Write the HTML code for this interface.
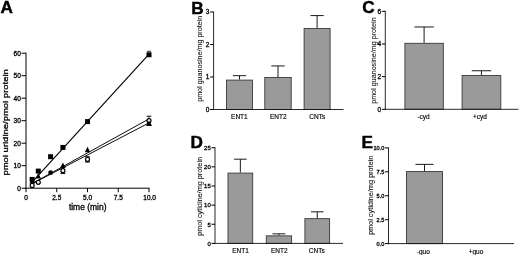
<!DOCTYPE html><html><head><meta charset="utf-8"><style>html,body{margin:0;padding:0;background:#fff;}svg{display:block;will-change:transform;filter:blur(0.35px);}text{font-family:"Liberation Sans",sans-serif;fill:#000;}</style></head><body>
<svg width="520" height="255" viewBox="0 0 520 255">
<rect x="0" y="0" width="520" height="255" fill="#ffffff"/>
<text x="0.6" y="13.1" font-size="17.2" text-anchor="start" font-weight="bold" stroke="#000" stroke-width="0.45">A</text>
<line x1="26" y1="52.7" x2="26" y2="188.7" stroke="#000" stroke-width="1"/>
<line x1="25.5" y1="188.2" x2="149.5" y2="188.2" stroke="#000" stroke-width="1"/>
<line x1="21.5" y1="188.2" x2="26" y2="188.2" stroke="#000" stroke-width="1"/>
<text x="20.8" y="190.5" font-size="6.5" text-anchor="end" stroke="#000" stroke-width="0.3">0</text>
<line x1="21.5" y1="165.7" x2="26" y2="165.7" stroke="#000" stroke-width="1"/>
<text x="20.8" y="168" font-size="6.5" text-anchor="end" stroke="#000" stroke-width="0.3">10</text>
<line x1="21.5" y1="143.2" x2="26" y2="143.2" stroke="#000" stroke-width="1"/>
<text x="20.8" y="145.5" font-size="6.5" text-anchor="end" stroke="#000" stroke-width="0.3">20</text>
<line x1="21.5" y1="120.7" x2="26" y2="120.7" stroke="#000" stroke-width="1"/>
<text x="20.8" y="123" font-size="6.5" text-anchor="end" stroke="#000" stroke-width="0.3">30</text>
<line x1="21.5" y1="98.2" x2="26" y2="98.2" stroke="#000" stroke-width="1"/>
<text x="20.8" y="100.5" font-size="6.5" text-anchor="end" stroke="#000" stroke-width="0.3">40</text>
<line x1="21.5" y1="75.7" x2="26" y2="75.7" stroke="#000" stroke-width="1"/>
<text x="20.8" y="78" font-size="6.5" text-anchor="end" stroke="#000" stroke-width="0.3">50</text>
<line x1="21.5" y1="53.2" x2="26" y2="53.2" stroke="#000" stroke-width="1"/>
<text x="20.8" y="55.5" font-size="6.5" text-anchor="end" stroke="#000" stroke-width="0.3">60</text>
<line x1="26" y1="188.2" x2="26" y2="192.2" stroke="#000" stroke-width="1"/>
<text x="26" y="199.9" font-size="6.5" text-anchor="middle" stroke="#000" stroke-width="0.3">0</text>
<line x1="56.75" y1="188.2" x2="56.75" y2="192.2" stroke="#000" stroke-width="1"/>
<text x="56.75" y="199.9" font-size="6.5" text-anchor="middle" stroke="#000" stroke-width="0.3">2.5</text>
<line x1="87.5" y1="188.2" x2="87.5" y2="192.2" stroke="#000" stroke-width="1"/>
<text x="87.5" y="199.9" font-size="6.5" text-anchor="middle" stroke="#000" stroke-width="0.3">5.0</text>
<line x1="118.25" y1="188.2" x2="118.25" y2="192.2" stroke="#000" stroke-width="1"/>
<text x="118.25" y="199.9" font-size="6.5" text-anchor="middle" stroke="#000" stroke-width="0.3">7.5</text>
<line x1="149" y1="188.2" x2="149" y2="192.2" stroke="#000" stroke-width="1"/>
<text x="149.6" y="199.9" font-size="6.5" text-anchor="middle" stroke="#000" stroke-width="0.3">10.0</text>
<text x="87.7" y="210.3" font-size="8.2" text-anchor="middle" stroke="#000" stroke-width="0.3" textLength="37.6" lengthAdjust="spacingAndGlyphs">time (min)</text>
<text x="8.2" y="122.4" font-size="8" text-anchor="middle" stroke="#000" stroke-width="0.3" textLength="106.4" lengthAdjust="spacingAndGlyphs" transform="rotate(-90 8.2 122.4)">pmol uridine/pmol protein</text>
<line x1="31" y1="183.3" x2="148.8" y2="54.3" stroke="#000" stroke-width="1.15"/>
<line x1="31" y1="184.4" x2="148.8" y2="123" stroke="#000" stroke-width="0.95"/>
<line x1="31" y1="184.2" x2="148.8" y2="119" stroke="#000" stroke-width="0.95"/>
<rect x="29.65" y="176.92" width="5" height="5" fill="#000"/>
<rect x="35.8" y="168.6" width="5" height="5" fill="#000"/>
<rect x="48.1" y="154.2" width="5" height="5" fill="#000"/>
<rect x="60.4" y="144.97" width="5" height="5" fill="#000"/>
<rect x="85" y="119.1" width="5" height="5" fill="#000"/>
<rect x="146.5" y="52.27" width="5" height="5" fill="#000"/>
<line x1="147" y1="51.32" x2="151" y2="51.32" stroke="#000" stroke-width="0.8"/>
<polygon points="32.15,178.47 29.45,183.87 34.85,183.87" fill="#000"/>
<polygon points="38.3,173.07 35.6,178.47 41,178.47" fill="#000"/>
<polygon points="62.9,162.5 60.2,167.9 65.6,167.9" fill="#000"/>
<polygon points="87.5,146.75 84.8,152.15 90.2,152.15" fill="#000"/>
<polygon points="149,120.42 146.3,125.82 151.7,125.82" fill="#000"/>
<circle cx="50.6" cy="172.67" r="2.4" fill="#000"/>
<circle cx="32.15" cy="185.5" r="2.0" fill="#fff" stroke="#000" stroke-width="1.2"/>
<circle cx="38.3" cy="182.35" r="2.0" fill="#fff" stroke="#000" stroke-width="1.2"/>
<line x1="62.9" y1="167.72" x2="62.9" y2="173.57" stroke="#000" stroke-width="0.8"/>
<line x1="60.5" y1="167.72" x2="65.3" y2="167.72" stroke="#000" stroke-width="0.9"/>
<line x1="60.5" y1="173.57" x2="65.3" y2="173.57" stroke="#000" stroke-width="0.9"/>
<circle cx="62.9" cy="170.65" r="2.0" fill="#fff" stroke="#000" stroke-width="1.2"/>
<line x1="87.5" y1="156.7" x2="87.5" y2="162.1" stroke="#000" stroke-width="0.8"/>
<line x1="85.1" y1="156.7" x2="89.9" y2="156.7" stroke="#000" stroke-width="0.9"/>
<line x1="85.1" y1="162.1" x2="89.9" y2="162.1" stroke="#000" stroke-width="0.9"/>
<circle cx="87.5" cy="159.4" r="2.0" fill="#fff" stroke="#000" stroke-width="1.2"/>
<line x1="149" y1="116.2" x2="149" y2="125.2" stroke="#000" stroke-width="0.8"/>
<line x1="146.6" y1="116.2" x2="151.4" y2="116.2" stroke="#000" stroke-width="0.9"/>
<line x1="146.6" y1="125.2" x2="151.4" y2="125.2" stroke="#000" stroke-width="0.9"/>
<circle cx="149" cy="120.7" r="2.0" fill="#fff" stroke="#000" stroke-width="1.2"/>
<polygon points="149,120.42 146.3,125.82 151.7,125.82" fill="#000"/>
<text x="191.2" y="13.5" font-size="17.2" text-anchor="start" font-weight="bold" stroke="#000" stroke-width="0.45">B</text>
<line x1="239.5" y1="75.7" x2="239.5" y2="79.6" stroke="#1a1a1a" stroke-width="1"/>
<line x1="232.88" y1="75.7" x2="246.12" y2="75.7" stroke="#1a1a1a" stroke-width="1"/>
<rect x="226.5" y="80.1" width="26" height="29.4" fill="#9a9a9a" stroke="#3a3a3a" stroke-width="0.9"/>
<text x="239.4" y="119.4" font-size="6.5" text-anchor="middle" stroke="#000" stroke-width="0.15">ENT1</text>
<line x1="278" y1="65.95" x2="278" y2="77" stroke="#1a1a1a" stroke-width="1"/>
<line x1="271.29" y1="65.95" x2="284.71" y2="65.95" stroke="#1a1a1a" stroke-width="1"/>
<rect x="264.8" y="77.5" width="26.4" height="32" fill="#9a9a9a" stroke="#3a3a3a" stroke-width="0.9"/>
<text x="278.3" y="119.4" font-size="6.5" text-anchor="middle" stroke="#000" stroke-width="0.15">ENT2</text>
<line x1="317.1" y1="15.58" x2="317.1" y2="27.93" stroke="#1a1a1a" stroke-width="1"/>
<line x1="310.49" y1="15.58" x2="323.72" y2="15.58" stroke="#1a1a1a" stroke-width="1"/>
<rect x="304.1" y="28.43" width="26" height="81.07" fill="#9a9a9a" stroke="#3a3a3a" stroke-width="0.9"/>
<text x="317.3" y="119.4" font-size="6.5" text-anchor="middle" stroke="#000" stroke-width="0.15">CNTs</text>
<line x1="213.6" y1="11.5" x2="213.6" y2="110" stroke="#111" stroke-width="0.9"/>
<line x1="213.1" y1="109.5" x2="343.5" y2="109.5" stroke="#111" stroke-width="0.9"/>
<line x1="210.1" y1="109.5" x2="213.6" y2="109.5" stroke="#000" stroke-width="1"/>
<text x="209.4" y="111.8" font-size="6.5" text-anchor="end" stroke="#000" stroke-width="0.3">0</text>
<line x1="210.1" y1="77" x2="213.6" y2="77" stroke="#000" stroke-width="1"/>
<text x="209.4" y="79.3" font-size="6.5" text-anchor="end" stroke="#000" stroke-width="0.3">1</text>
<line x1="210.1" y1="44.5" x2="213.6" y2="44.5" stroke="#000" stroke-width="1"/>
<text x="209.4" y="46.8" font-size="6.5" text-anchor="end" stroke="#000" stroke-width="0.3">2</text>
<line x1="210.1" y1="12" x2="213.6" y2="12" stroke="#000" stroke-width="1"/>
<text x="209.4" y="14.3" font-size="6.5" text-anchor="end" stroke="#000" stroke-width="0.3">3</text>
<text x="202" y="58.8" font-size="6.3" text-anchor="middle" stroke="#000" stroke-width="0.08" style="fill:#1a1a1a" textLength="86" lengthAdjust="spacingAndGlyphs" transform="rotate(-90 202 58.8)">pmol guanosine/mg protein</text>
<text x="362.3" y="13" font-size="17.2" text-anchor="start" font-weight="bold" stroke="#000" stroke-width="0.45">C</text>
<line x1="424.1" y1="26.98" x2="424.1" y2="42.82" stroke="#1a1a1a" stroke-width="1"/>
<line x1="414.45" y1="26.98" x2="433.75" y2="26.98" stroke="#1a1a1a" stroke-width="1"/>
<rect x="404.9" y="43.32" width="38.4" height="65.98" fill="#9a9a9a" stroke="#3a3a3a" stroke-width="0.9"/>
<text x="423.5" y="119.4" font-size="6.5" text-anchor="middle" stroke="#000" stroke-width="0.15">-cyd</text>
<line x1="481.45" y1="70.75" x2="481.45" y2="75" stroke="#1a1a1a" stroke-width="1"/>
<line x1="471.72" y1="70.75" x2="491.18" y2="70.75" stroke="#1a1a1a" stroke-width="1"/>
<rect x="462.1" y="75.5" width="38.7" height="33.8" fill="#9a9a9a" stroke="#3a3a3a" stroke-width="0.9"/>
<text x="480" y="119.4" font-size="6.5" text-anchor="middle" stroke="#000" stroke-width="0.15">+cyd</text>
<line x1="385.3" y1="10.8" x2="385.3" y2="109.8" stroke="#111" stroke-width="0.9"/>
<line x1="384.8" y1="109.3" x2="518.5" y2="109.3" stroke="#111" stroke-width="0.9"/>
<line x1="381.8" y1="109.3" x2="385.3" y2="109.3" stroke="#000" stroke-width="1"/>
<text x="381.1" y="111.6" font-size="6.5" text-anchor="end" stroke="#000" stroke-width="0.3">0</text>
<line x1="381.8" y1="76.63" x2="385.3" y2="76.63" stroke="#000" stroke-width="1"/>
<text x="381.1" y="78.93" font-size="6.5" text-anchor="end" stroke="#000" stroke-width="0.3">2</text>
<line x1="381.8" y1="43.97" x2="385.3" y2="43.97" stroke="#000" stroke-width="1"/>
<text x="381.1" y="46.27" font-size="6.5" text-anchor="end" stroke="#000" stroke-width="0.3">4</text>
<line x1="381.8" y1="11.3" x2="385.3" y2="11.3" stroke="#000" stroke-width="1"/>
<text x="381.1" y="13.6" font-size="6.5" text-anchor="end" stroke="#000" stroke-width="0.3">6</text>
<text x="375.8" y="60.6" font-size="6.3" text-anchor="middle" stroke="#000" stroke-width="0.08" style="fill:#1a1a1a" textLength="86.5" lengthAdjust="spacingAndGlyphs" transform="rotate(-90 375.8 60.6)">pmol guanosine/mg protein</text>
<text x="190.6" y="148.1" font-size="17.2" text-anchor="start" font-weight="bold" stroke="#000" stroke-width="0.45">D</text>
<line x1="240.35" y1="159.18" x2="240.35" y2="172.58" stroke="#1a1a1a" stroke-width="1"/>
<line x1="234.05" y1="159.18" x2="246.65" y2="159.18" stroke="#1a1a1a" stroke-width="1"/>
<rect x="228" y="173.08" width="24.7" height="70.32" fill="#9a9a9a" stroke="#3a3a3a" stroke-width="0.9"/>
<text x="240.5" y="253.2" font-size="6.5" text-anchor="middle" stroke="#000" stroke-width="0.15">ENT1</text>
<line x1="278.95" y1="233.83" x2="278.95" y2="235.36" stroke="#1a1a1a" stroke-width="1"/>
<line x1="272.51" y1="233.83" x2="285.39" y2="233.83" stroke="#1a1a1a" stroke-width="1"/>
<rect x="266.3" y="235.86" width="25.3" height="7.54" fill="#9a9a9a" stroke="#3a3a3a" stroke-width="0.9"/>
<text x="279.2" y="253.2" font-size="6.5" text-anchor="middle" stroke="#000" stroke-width="0.15">ENT2</text>
<line x1="317.25" y1="211.82" x2="317.25" y2="218.14" stroke="#1a1a1a" stroke-width="1"/>
<line x1="310.95" y1="211.82" x2="323.55" y2="211.82" stroke="#1a1a1a" stroke-width="1"/>
<rect x="304.9" y="218.64" width="24.7" height="24.76" fill="#9a9a9a" stroke="#3a3a3a" stroke-width="0.9"/>
<text x="316.8" y="253.2" font-size="6.5" text-anchor="middle" stroke="#000" stroke-width="0.15">CNTs</text>
<line x1="215" y1="147.2" x2="215" y2="243.9" stroke="#111" stroke-width="0.9"/>
<line x1="214.5" y1="243.4" x2="343" y2="243.4" stroke="#111" stroke-width="0.9"/>
<line x1="211.5" y1="243.4" x2="215" y2="243.4" stroke="#000" stroke-width="1"/>
<text x="210.8" y="245.7" font-size="6" text-anchor="end" stroke="#000" stroke-width="0.3">0</text>
<line x1="211.5" y1="224.26" x2="215" y2="224.26" stroke="#000" stroke-width="1"/>
<text x="210.8" y="226.56" font-size="6" text-anchor="end" stroke="#000" stroke-width="0.3">5</text>
<line x1="211.5" y1="205.12" x2="215" y2="205.12" stroke="#000" stroke-width="1"/>
<text x="210.8" y="207.42" font-size="6" text-anchor="end" stroke="#000" stroke-width="0.3">10</text>
<line x1="211.5" y1="185.98" x2="215" y2="185.98" stroke="#000" stroke-width="1"/>
<text x="210.8" y="188.28" font-size="6" text-anchor="end" stroke="#000" stroke-width="0.3">15</text>
<line x1="211.5" y1="166.84" x2="215" y2="166.84" stroke="#000" stroke-width="1"/>
<text x="210.8" y="169.14" font-size="6" text-anchor="end" stroke="#000" stroke-width="0.3">20</text>
<line x1="211.5" y1="147.7" x2="215" y2="147.7" stroke="#000" stroke-width="1"/>
<text x="210.8" y="150" font-size="6" text-anchor="end" stroke="#000" stroke-width="0.3">25</text>
<text x="202.2" y="196.4" font-size="6.3" text-anchor="middle" stroke="#000" stroke-width="0.08" style="fill:#1a1a1a" textLength="79" lengthAdjust="spacingAndGlyphs" transform="rotate(-90 202.2 196.4)">pmol  cytidine/mg protein</text>
<text x="361.5" y="148.1" font-size="17.2" text-anchor="start" font-weight="bold" stroke="#000" stroke-width="0.45">E</text>
<line x1="424.5" y1="164.36" x2="424.5" y2="171.06" stroke="#1a1a1a" stroke-width="1"/>
<line x1="415.44" y1="164.36" x2="433.56" y2="164.36" stroke="#1a1a1a" stroke-width="1"/>
<rect x="406.5" y="171.56" width="36" height="72.04" fill="#9a9a9a" stroke="#3a3a3a" stroke-width="0.9"/>
<text x="423.3" y="253.6" font-size="6.5" text-anchor="middle" stroke="#000" stroke-width="0.15">-guo</text>
<text x="476" y="253.6" font-size="6.5" text-anchor="middle" stroke="#000" stroke-width="0.15">+guo</text>
<line x1="388.5" y1="147.4" x2="388.5" y2="244.1" stroke="#111" stroke-width="0.9"/>
<line x1="388" y1="243.6" x2="514" y2="243.6" stroke="#111" stroke-width="0.9"/>
<line x1="385" y1="243.6" x2="388.5" y2="243.6" stroke="#000" stroke-width="1"/>
<text x="384.3" y="245.9" font-size="5.6" text-anchor="end" stroke="#000" stroke-width="0.3">0.0</text>
<line x1="385" y1="219.68" x2="388.5" y2="219.68" stroke="#000" stroke-width="1"/>
<text x="384.3" y="221.98" font-size="5.6" text-anchor="end" stroke="#000" stroke-width="0.3">2.5</text>
<line x1="385" y1="195.75" x2="388.5" y2="195.75" stroke="#000" stroke-width="1"/>
<text x="384.3" y="198.05" font-size="5.6" text-anchor="end" stroke="#000" stroke-width="0.3">5.0</text>
<line x1="385" y1="171.82" x2="388.5" y2="171.82" stroke="#000" stroke-width="1"/>
<text x="384.3" y="174.12" font-size="5.6" text-anchor="end" stroke="#000" stroke-width="0.3">7.5</text>
<line x1="385" y1="147.9" x2="388.5" y2="147.9" stroke="#000" stroke-width="1"/>
<text x="384.3" y="150.2" font-size="5.6" text-anchor="end" stroke="#000" stroke-width="0.3">10.0</text>
<text x="373.2" y="195.3" font-size="6.3" text-anchor="middle" stroke="#000" stroke-width="0.08" style="fill:#1a1a1a" textLength="79.5" lengthAdjust="spacingAndGlyphs" transform="rotate(-90 373.2 195.3)">pmol cytidine/mg protein</text>
</svg></body></html>
